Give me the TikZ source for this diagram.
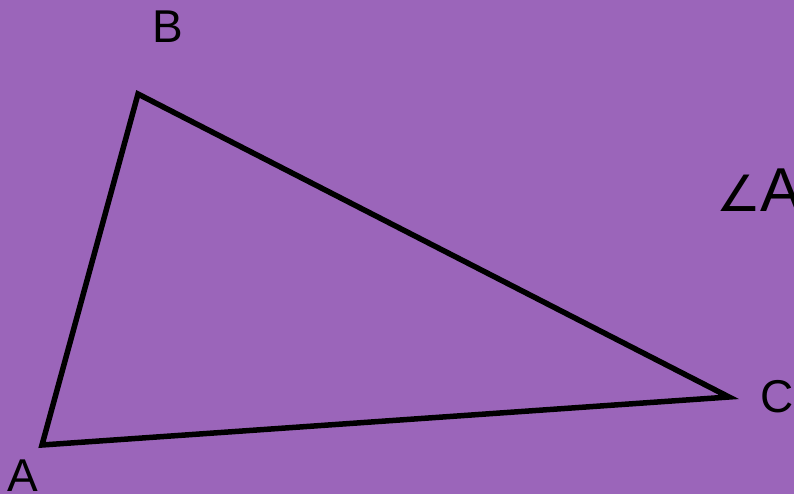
\documentclass[tikz,border=0pt]{standalone}
\usepackage{fontspec}
\setmainfont{Liberation Sans}
\newfontfamily\symfont{DejaVu Sans}
\begin{document}
\begin{tikzpicture}[x=1pt,y=-1pt]
\path[use as bounding box] (0,0) rectangle (794,494);
\path[fill={rgb,255:red,155;green,101;blue,186}] (0,0) rectangle (794,494);
\coordinate (a) at (42,445);
\coordinate (b) at (138,94);
\coordinate (c) at (729,397);
\draw[draw=black,line width=5.5pt,line join=miter] (a) -- (b) -- (c) -- cycle;
\node[inner sep=0pt,outer sep=0pt,anchor=base west,font=\fontsize{46}{55}\selectfont] (lblb) at (152,43) {B};
\node[inner sep=0pt,outer sep=0pt,anchor=base west,font=\fontsize{46}{55}\selectfont] (lbla) at (8,491) {A};
\node[inner sep=0pt,outer sep=0pt,anchor=base west,font=\fontsize{46}{55}\selectfont] (lblc) at (760,412) {C};
\node[inner sep=0pt,outer sep=0pt,anchor=base west,font=\fontsize{62}{74}\selectfont] (lblang) at (716,212) {{\symfont\fontsize{50}{60}\selectfont ∠}A};
\end{tikzpicture}
\end{document}
